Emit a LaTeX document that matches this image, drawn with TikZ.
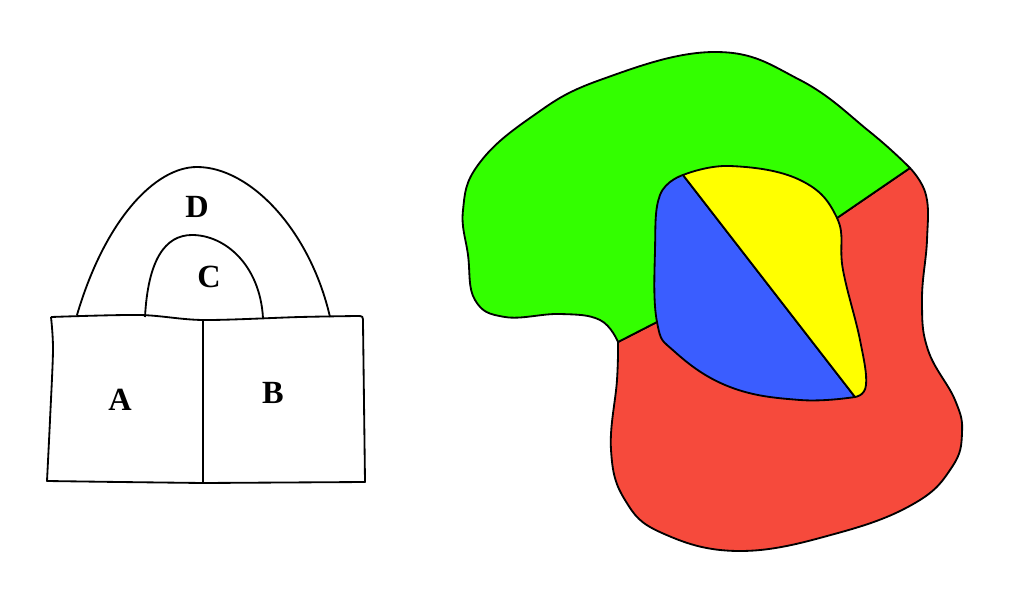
\documentclass[tikz,border=0pt]{standalone}
\usepackage{fontspec}
\setmainfont{Liberation Serif}
\usepackage{tikz}

\definecolor{mapgreen}{RGB}{51,255,0}
\definecolor{mapred}{RGB}{246,74,60}
\definecolor{mapblue}{RGB}{58,93,255}
\definecolor{mapyellow}{RGB}{255,255,0}

\begin{document}
\begin{tikzpicture}[x=0.025cm,y=-0.025cm,
	border/.style={draw=black,line width=1.3pt,line join=round},
	letter/.style={font=\fontsize{23}{27}\selectfont\bfseries}]
	\useasboundingbox (0,0) rectangle (1024,597);

	% left map: two squares and two arches
	\begin{scope}[border]
	    \coordinate (mt) at (203,320);
	    \coordinate (mb) at (203,483);
	    \draw plot[smooth] coordinates {(51,317) (140,315) (mt) (300,317) (357,316)}
	          .. controls (363,316) .. (363,323) -- (365,482) -- (mb)
	          -- plot[smooth] coordinates {(mb) (120,482) (47,481)}
	          -- plot[smooth] coordinates {(47,481) (50,420) (53,350) (51,317)};
	    \draw (mt) -- (mb);
	    \draw (77,315) .. controls (105,220) and (155,167) .. (197,167)
	          .. controls (250,167) and (310,230) .. (330,317);
	    \draw (145,317) .. controls (148,260) and (165,235) .. (192,235)
	          .. controls (225,235) and (260,265) .. (263,318);
	\end{scope}

	\begin{scope}[every node/.style={letter}]
	    \node (lblA) at (120,400) {A};
	    \node (lblB) at (273,393) {B};
	    \node (lblC) at (209,277) {C};
	    \node (lblD) at (197,207) {D};
	\end{scope}

	% right map: four coloured regions
	\coordinate (bl) at (618,342);
	\coordinate (tr) at (910,168);
	\coordinate (il) at (657,322);
	\coordinate (ir) at (837,218);
	\coordinate (itop) at (683,175);
	\coordinate (ibot) at (855,397);

	\begin{scope}[border,smooth,tension=0.7]
	    \filldraw[fill=mapred] plot coordinates {(tr) (926,195) (927,240) (922,300) (928,350) (955,400) (962,433) (952,467) (915,503) (838,533) (740,551) (662,533) (625,500) (611,450) (617,380) (bl)}
	          -- (il) -- (ir) -- cycle;
	    \filldraw[fill=mapgreen] plot coordinates {(bl) (600,320) (560,314) (505,317) (475,300) (468,255) (463,210) (478,165) (530,118) (600,80) (715,52) (800,80) (870,132) (tr)}
	          -- (ir) -- (il) -- cycle;
	    \filldraw[fill=mapblue] plot coordinates {(itop) (660,195) (655,250) (il) (675,352) (730,387) (800,400) (ibot)}
	          -- cycle;
	    \filldraw[fill=mapyellow] plot coordinates {(itop) (730,166) (800,180) (ir) (843,270) (860,340) (866,385) (ibot)}
	          -- cycle;
	\end{scope}
\end{tikzpicture}
\end{document}
